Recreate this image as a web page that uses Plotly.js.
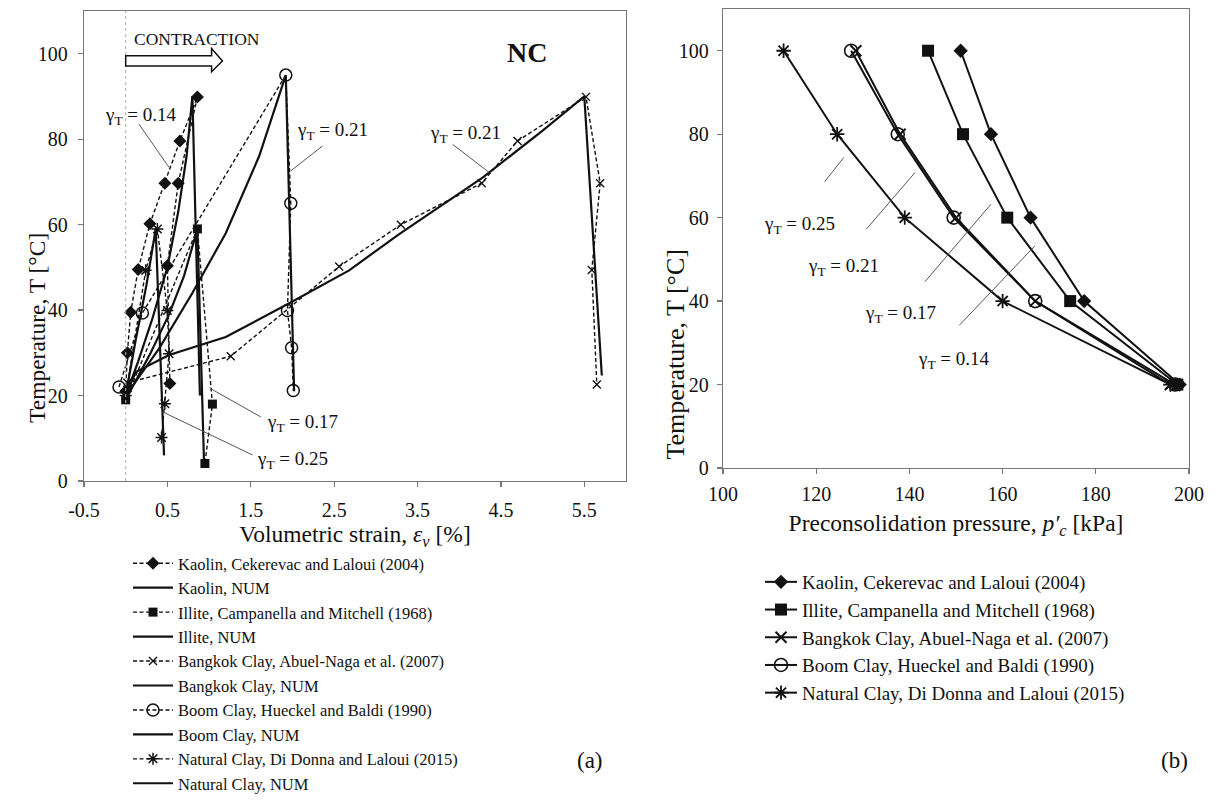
<!DOCTYPE html>
<html>
<head>
<meta charset="utf-8">
<script src="https://cdn.plot.ly/plotly-3.0.1.min.js"></script>
<style>html,body{margin:0;padding:0;background:#fff;}#chart{width:1218px;height:801px;}</style>
</head>
<body>
<div id="chart"></div>
<script>
// ---------- Panel (a): volumetric strain [%] vs temperature [°C] ----------
const kaolinExpX = [0.00, 0.02, 0.06, 0.15, 0.29, 0.47, 0.65, 0.86, 0.63, 0.50, 0.53];
const kaolinExpY = [21, 30, 39.5, 49.5, 60.2, 69.7, 79.6, 89.9, 69.7, 50.4, 22.8];
const kaolinNumX = [0, 0.15, 0.32, 0.50, 0.63, 0.73, 0.80, 0.845, 0.89];
const kaolinNumY = [20, 28, 38, 50, 63, 76, 90, 55, 20];

const illiteExpX = [0.00, 0.86, 1.04, 0.95];
const illiteExpY = [19, 59, 18, 4.1];
const illiteNumX = [0, 0.30, 0.52, 0.70, 0.86, 0.94];
const illiteNumY = [19, 30, 39, 48, 59, 4];

const bangkokExpX = [0.02, 1.26, 2.56, 3.30, 4.27, 4.70, 5.52, 5.69, 5.59, 5.65];
const bangkokExpY = [23, 29.2, 50.2, 60, 69.7, 79.6, 89.9, 69.7, 49.4, 22.6];
const bangkokNumX = [0, 0.12, 0.52, 1.20, 1.95, 2.68, 3.28, 4.28, 5.00, 5.50, 5.606, 5.71];
const bangkokNumY = [20, 25.5, 29.5, 33.7, 41.5, 49.3, 57.8, 71, 82, 90, 57, 24.7];

const boomExpX = [-0.08, 0.20, 1.92, 1.98, 1.94, 1.99, 2.01];
const boomExpY = [22, 39.3, 95, 65, 39.9, 31.2, 21.2];
const boomNumX = [0, 0.40, 0.80, 1.20, 1.60, 1.92, 1.97, 2.02];
const boomNumY = [20, 31, 44, 58, 76, 95, 58, 21];

const naturalExpX = [0.00, 0.24, 0.38, 0.50, 0.52, 0.47, 0.43];
const naturalExpY = [20, 49.3, 59, 39.9, 29.8, 18.1, 10.2];
const naturalNumX = [0, 0.12, 0.25, 0.36, 0.405, 0.46];
const naturalNumY = [20, 33, 46, 59, 35, 6];

const strainTicks = [-0.5, 0.5, 1.5, 2.5, 3.5, 4.5, 5.5];
const strainTickText = ['-0.5', '0.5', '1.5', '2.5', '3.5', '4.5', '5.5'];

// ---------- Panel (b): preconsolidation pressure [kPa] vs temperature ----------
const tempB = [100, 80, 60, 40, 20];
const kaolinPc  = [151, 157.5, 166, 177.5, 198];
const illitePc  = [144, 151.5, 161, 174.5, 197.5];
const bangkokPc = [128.5, 138, 150, 167, 196];
const boomPc    = [127.5, 137.5, 149.5, 167, 197];
const naturalPc = [113, 124.5, 139, 160, 196];

const namesA = [
  'Kaolin, Cekerevac and Laloui (2004)', 'Kaolin, NUM',
  'Illite, Campanella and Mitchell (1968)', 'Illite, NUM',
  'Bangkok Clay, Abuel-Naga et al. (2007)', 'Bangkok Clay, NUM',
  'Boom Clay, Hueckel and Baldi (1990)', 'Boom Clay, NUM',
  'Natural Clay, Di Donna and Laloui (2015)', 'Natural Clay, NUM'
];
const namesB = [
  'Kaolin, Cekerevac and Laloui (2004)',
  'Illite, Campanella and Mitchell (1968)',
  'Bangkok Clay, Abuel-Naga et al. (2007)',
  'Boom Clay, Hueckel and Baldi (1990)',
  'Natural Clay, Di Donna and Laloui (2015)'
];

// gamma_T labels
const labelsA = [
  {t: '0.14', x: 0.18, y: 85.4}, {t: '0.21', x: 2.48, y: 82}, {t: '0.21', x: 4.07, y: 81.2},
  {t: '0.17', x: 2.12, y: 13.5}, {t: '0.25', x: 2.0, y: 4.9}
];
const leadersA = [
  [0.16, 83.5, 0.52, 73.4], [2.36, 78.4, 1.98, 72.6], [3.92, 78.8, 4.36, 72.2],
  [1.02, 21.6, 1.62, 15.0], [0.44, 16.2, 1.52, 6.1]
];
const labelsB = [
  {t: '0.25', x: 116.5, y: 58.2}, {t: '0.21', x: 125.8, y: 48.2},
  {t: '0.17', x: 138.1, y: 37}, {t: '0.14', x: 149.4, y: 25.8}
];
const leadersB = [
  [121.8, 68.6, 125.9, 74.4], [130.8, 57.3, 141.2, 70.8],
  [143.3, 44.6, 157.5, 63.2], [150.7, 34.2, 166.9, 53.2]
];

const FONT = 'Liberation Serif, Times New Roman, serif';
const BLK = '#111';
const dashExp = '4px,2.5px';
const W = 1218, H = 801;

function expTrace(x, y, name, marker) {
  return {x, y, name, type: 'scatter', mode: 'lines+markers', xaxis: 'x', yaxis: 'y', legend: 'legend',
    line: {color: BLK, width: 1.4, dash: dashExp}, marker};
}
function numTrace(x, y, name) {
  return {x, y, name, type: 'scatter', mode: 'lines', xaxis: 'x', yaxis: 'y', legend: 'legend',
    line: {color: BLK, width: 2.2}};
}
const mk = {
  kaolin: {symbol: 'diamond', size: 10, color: BLK},
  illite: {symbol: 'square', size: 9, color: BLK},
  bangkok: {symbol: 'x-thin-open', size: 8, color: BLK, line: {color: BLK, width: 1.4}},
  boom: {symbol: 'circle-open', size: 12, color: BLK, line: {color: BLK, width: 1.5}},
  natural: {symbol: 'asterisk-open', size: 10, color: BLK, line: {color: BLK, width: 1.5}}
};

const traces = [
  expTrace(kaolinExpX, kaolinExpY, namesA[0], mk.kaolin),
  numTrace(kaolinNumX, kaolinNumY, namesA[1]),
  expTrace(illiteExpX, illiteExpY, namesA[2], mk.illite),
  numTrace(illiteNumX, illiteNumY, namesA[3]),
  expTrace(bangkokExpX, bangkokExpY, namesA[4], mk.bangkok),
  numTrace(bangkokNumX, bangkokNumY, namesA[5]),
  expTrace(boomExpX, boomExpY, namesA[6], mk.boom),
  numTrace(boomNumX, boomNumY, namesA[7]),
  expTrace(naturalExpX, naturalExpY, namesA[8], mk.natural),
  numTrace(naturalNumX, naturalNumY, namesA[9])
];

const mkB = [
  {symbol: 'diamond', size: 11, color: BLK},
  {symbol: 'square', size: 12, color: BLK},
  {symbol: 'x-thin-open', size: 11, color: BLK, line: {color: BLK, width: 2}},
  {symbol: 'circle-open', size: 13, color: BLK, line: {color: BLK, width: 1.6}},
  {symbol: 'asterisk-open', size: 12, color: BLK, line: {color: BLK, width: 1.8}}
];
[kaolinPc, illitePc, bangkokPc, boomPc, naturalPc].forEach((pc, i) => {
  traces.push({x: pc, y: tempB, name: namesB[i], type: 'scatter', mode: 'lines+markers',
    xaxis: 'x2', yaxis: 'y2', legend: 'legend2', line: {color: BLK, width: 2}, marker: mkB[i]});
});

const annotations = [];
const shapes = [];
labelsA.forEach(l => annotations.push({xref: 'x', yref: 'y', x: l.x, y: l.y, text: 'γ<sub>T</sub> = ' + l.t,
  showarrow: false, font: {family: FONT, size: 19, color: BLK}}));
labelsB.forEach(l => annotations.push({xref: 'x2', yref: 'y2', x: l.x, y: l.y, text: 'γ<sub>T</sub> = ' + l.t,
  showarrow: false, font: {family: FONT, size: 19, color: BLK}}));
leadersA.forEach(s => shapes.push({type: 'line', xref: 'x', yref: 'y', x0: s[0], y0: s[1], x1: s[2], y1: s[3],
  line: {color: '#555', width: 1}}));
leadersB.forEach(s => shapes.push({type: 'line', xref: 'x2', yref: 'y2', x0: s[0], y0: s[1], x1: s[2], y1: s[3],
  line: {color: '#555', width: 1}}));
// dotted reference line at zero strain
shapes.push({type: 'line', xref: 'x', yref: 'y', x0: 0, x1: 0, y0: 0, y1: 110, line: {color: '#aaa', width: 1, dash: 'dot'}});
// hollow "contraction" arrow
const arrow = {x0: 0.0, xHead: 1.03, xTip: 1.16, bodyTop: 99.5, bodyBot: 97.1, headTop: 101.2, headBot: 95.8, mid: 98.3};
shapes.push({type: 'path', xref: 'x', yref: 'y', fillcolor: '#fff', line: {color: BLK, width: 1.5},
  path: `M ${arrow.x0} ${arrow.bodyTop} L ${arrow.xHead} ${arrow.bodyTop} L ${arrow.xHead} ${arrow.headTop} L ${arrow.xTip} ${arrow.mid} L ${arrow.xHead} ${arrow.headBot} L ${arrow.xHead} ${arrow.bodyBot} L ${arrow.x0} ${arrow.bodyBot} Z`});

annotations.push({xref: 'x', yref: 'y', x: 0.07, y: 103.4, xanchor: 'left', text: 'CONTRACTION', showarrow: false,
  font: {family: FONT, size: 17.5, color: BLK}});
annotations.push({xref: 'x', yref: 'y', x: 4.81, y: 100.2, text: '<b>NC</b>', showarrow: false,
  font: {family: FONT, size: 28, color: BLK}});
annotations.push({xref: 'paper', yref: 'paper', x: 590 / W, y: 1 - 775 / H, text: '(a)', showarrow: false,
  font: {family: FONT, size: 23, color: BLK}});
annotations.push({xref: 'paper', yref: 'paper', x: 1190 / W, y: 1 - 775 / H, text: '(b)', showarrow: false,
  font: {family: FONT, size: 23, color: BLK}});
// y-axis titles (rotated text placed close to the tick labels, as in the reference)
annotations.push({xref: 'paper', yref: 'paper', x: 22 / W, y: 1 - 231 / H, textangle: -90, text: 'Temperature, T [°C]',
  showarrow: false, font: {family: FONT, size: 23.5, color: BLK}});
annotations.push({xref: 'paper', yref: 'paper', x: 675 / W, y: 1 - 247 / H, textangle: -90, text: 'Temperature, T [°C]',
  showarrow: false, font: {family: FONT, size: 26, color: BLK}});

const axBase = {showgrid: false, zeroline: false, showline: true, mirror: true, linecolor: '#777', linewidth: 1.3,
  ticks: 'outside', tickcolor: '#777', ticklen: 5, tickwidth: 1.2, color: BLK};

const layout = {
  width: W, height: H,
  margin: {l: 0, r: 0, t: 0, b: 0},
  paper_bgcolor: '#fff', plot_bgcolor: '#fff',
  font: {family: FONT, color: BLK},
  showlegend: true,
  xaxis: Object.assign({}, axBase, {domain: [84 / W, 626 / W], range: [-0.5, 6.0],
    tickmode: 'array', tickvals: strainTicks, ticktext: strainTickText,
    tickfont: {size: 20}, anchor: 'y', ticklabelstandoff: 6,
    title: {text: 'Volumetric strain, <i>ε<sub>v</sub></i> [%]', font: {size: 23.5}, standoff: 0}}),
  yaxis: Object.assign({}, axBase, {domain: [1 - 481 / H, 1 - 11 / H], range: [0, 110], tick0: 0, dtick: 20,
    tickfont: {size: 20}, anchor: 'x', ticklabelstandoff: 6}),
  xaxis2: Object.assign({}, axBase, {domain: [723 / W, 1189 / W], range: [100, 200], tick0: 100, dtick: 20,
    tickfont: {size: 20}, anchor: 'y2', ticklabelstandoff: 3,
    title: {text: 'Preconsolidation pressure, <i>p′<sub>c</sub></i> [kPa]', font: {size: 23.5}, standoff: 10}}),
  yaxis2: Object.assign({}, axBase, {domain: [1 - 468 / H, 1 - 9 / H], range: [0, 110], tick0: 0, dtick: 20,
    tickfont: {size: 20}, anchor: 'x2', ticklabelstandoff: 4}),
  legend: {x: 128 / W, y: 1 - 546 / H, xanchor: 'left', yanchor: 'top',
    bgcolor: 'rgba(0,0,0,0)', font: {family: FONT, size: 16.5, color: BLK}, itemwidth: 40, tracegroupgap: 0},
  legend2: {x: 760 / W, y: 1 - 563 / H, xanchor: 'left', yanchor: 'top',
    bgcolor: 'rgba(0,0,0,0)', font: {family: FONT, size: 19, color: BLK}, itemwidth: 32, tracegroupgap: 0},
  annotations, shapes
};

Plotly.newPlot('chart', traces, layout, {displayModeBar: false, staticPlot: true});
</script>
</body>
</html>
